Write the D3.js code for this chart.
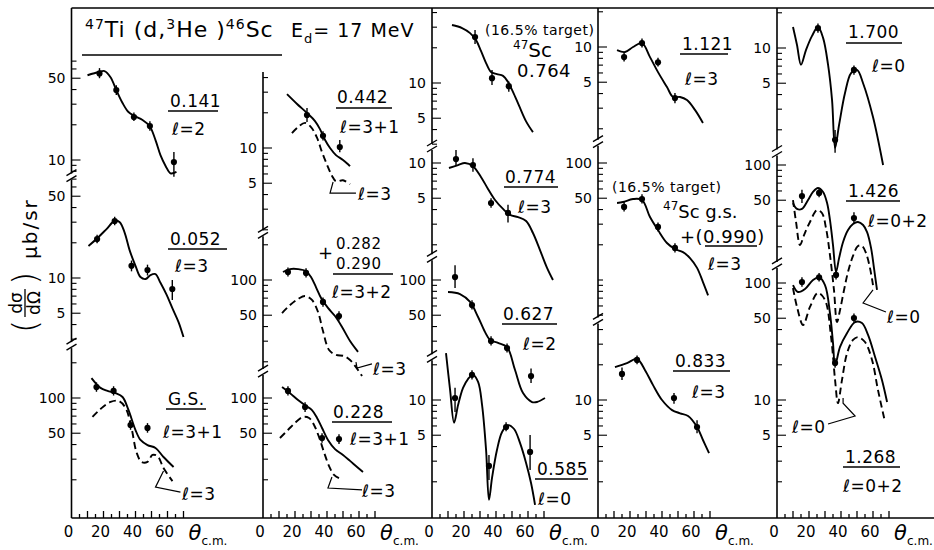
<!DOCTYPE html>
<html><head><meta charset="utf-8">
<script src="https://cdn.jsdelivr.net/npm/d3@7"></script>
<style>
body{margin:0;background:#fff}
svg{display:block}
text{font-family:"DejaVu Sans",sans-serif;fill:#000}
</style>
</head><body>
<svg id="c" width="934" height="550"></svg>
<script>
// ================= DATA (θ in degrees, dσ/dΩ in µb/sr) =================
const thetaTicks = [5,10,15,20,25,30,35,40,45,50,55,60,65,70];
const thetaLabels = [0,20,40,60];

// points: [theta, value, errLow, errHigh]
const p0141_pts = [[17.5,55,50,61],[28,39.6,36,43.5],[39,23.3,21.5,25.5],[49,19.5,17.8,21.4],[64,9.6,7.2,11.7]];
const p0141_l2 = [[10,53],[17,56.5],[20.6,57.6],[24.4,51],[28,39.6],[31.9,30.7],[35.6,25.7],[39.4,23.8],[44.4,22],[48.8,19.5],[52.5,14.8],[55.6,11],[58.8,8.9],[61.9,7.7],[65.6,7.9]];

const p0052_pts = [[16,21.5,19.8,23.4],[27,30.7,28.2,33.4],[37.5,12.7,11.4,14.1],[47.5,11.7,10.5,13],[63,8.05,6.5,9.6]];
const p0052_l3 = [[10.6,18.8],[16.3,22],[21.9,26.2],[26.9,30.7],[30,30.1],[33.1,24.7],[36.3,17.3],[40,12.7],[43.1,10.2],[46.3,9.8],[49.4,10.6],[52.5,10.8],[55.6,9.1],[59.4,7.2],[63.1,5.5],[66.9,4.2],[70,3.13]];

const pGS_pts = [[15.6,124,113,136],[26.3,115,105,126],[36.9,58.8,53.5,64.5],[47.5,55.5,50.5,61]];
const pGS_l31 = [[12.5,148],[18.1,122],[22.5,115],[27.5,110],[31.9,102],[35.6,79],[40,53.2],[43.1,43.8],[47.5,39.6],[52.5,37.4],[57.5,31.3],[63.8,25.7]];
const pGS_l3 = [[13.1,68.9],[18.1,80.5],[24.4,92.5],[29.4,94.3],[33.8,82.2],[37.5,55.4],[40.6,34.5],[43.8,28.4],[47.5,28.4],[50.6,32.6],[53.8,31.9],[57.5,25.2],[63.1,19.5]];

const p0442_pts = [[27.5,19.1,16.7,22],[37.5,12.7,11.6,13.9],[48,10.2,9.2,11.7]];
const p0442_l31 = [[15,28.9],[21.3,23.8],[27.5,19.9],[32.5,17],[35.6,14.5],[38.8,11.7],[41.9,10],[45.6,8.7],[50,7.9],[54.4,7.0]];
const p0442_l3 = [[18.1,13.4],[21.9,15.1],[26.3,16.4],[30,15.1],[33.8,12.2],[36.9,9.2],[40,7.2],[43.1,5.8],[45.6,5.2],[50,5.3],[54.4,4.9]];

const p0282_pts = [[15.6,117,107,128],[26.9,115,105,126],[37.5,64.9,59,71],[47.5,49.2,45,54]];
const p0282_l32 = [[12.5,117],[16.9,124],[21.9,124],[26.9,119],[30,106],[33.1,87],[36.3,70.2],[40.6,57.7],[45,49.2],[49.4,39.7],[54.4,30.1],[59.4,24.3]];
const p0282_l3 = [[11.9,52.2],[16.9,61.1],[21.9,68.8],[26.3,73],[30.6,67.5],[34.4,53.3],[37.5,36.6],[41.3,25.2],[45.6,22.9],[50.6,22.4],[54.4,20.7],[58.1,18],[61.9,15.1]];

const p0228_pts = [[15.6,115,105,126],[26.3,83.8,76,92],[36.9,45.5,41.5,50],[47.5,44.6,40.5,49]];
const p0228_l31 = [[11.9,124],[16.9,110],[21.9,96],[26.9,85.5],[30.6,78.9],[33.8,67.5],[36.9,55.4],[40.6,43.8],[45,36.6],[50,32.6],[54.4,29],[58.8,25.7],[62.5,23.3]];
const p0228_l3 = [[10.6,45.5],[15.6,53.3],[20.6,62.4],[25,68.8],[28.8,67.5],[31.9,58.8],[35,46.4],[38.1,34.5],[41.3,26.2],[44.4,22],[47.5,20.7]];

const p0764_pts = [[26.9,24.7,21.5,28.4],[37.5,11,9.6,12.9],[48,9.4,8.4,10.3]];
const p0764_fit = [[12.5,31.3],[18.8,29.5],[23.8,26.7],[27.5,23.3],[30.6,18.8],[33.8,14.8],[36.9,12.4],[40.6,11.9],[44.4,11.5],[47.5,10.2],[50.6,8.4],[54.4,6.4],[58.8,4.7],[63.1,3.8]];

const p0774_pts = [[15,10.8,9.6,12.9],[25.6,9.6,8.4,11],[36.9,4.55,4.15,5],[47.5,3.74,3.1,4.4]];
const p0774_l3 = [[10.6,9.06],[16.3,9.6],[20.6,10],[25.6,9.4],[30.6,7.6],[35,6.0],[39.4,4.83],[44.4,4.05],[48.8,3.6],[53.8,3.45],[58.8,3.19],[63.1,2.52],[67.5,1.8],[71.9,1.27],[75.6,1.0]];

const p0627_pts = [[14.4,106,85.4,134],[25,61,56,67],[36.9,30.1,27.5,33],[46.9,26.2,24,28.7],[61.9,15.1,13.2,17.5]];
const p0627_l2 = [[10,78.9],[17.5,75.9],[23.8,64.9],[28.8,48.3],[33.1,36],[36.3,30.7],[41.3,29],[46.9,26.7],[51.9,17],[56.9,10.8],[62.5,9.06],[65.6,9.06],[70.6,9.8]];

const p0585_pts = [[14.4,10.4,7.9,12.7],[25,16.4,15,18],[35.6,2.73,2.07,3.39],[46.3,5.88,5.4,6.45],[61.3,3.6,2.52,5.03]];
const p0585_l0 = [[8.75,25.2],[11.3,12.2],[13.8,6.4],[16.3,9.06],[19.4,12.7],[22.5,15.1],[25.6,16.4],[28.8,14.3],[31.3,9.06],[33.8,3.74],[35.6,1.4],[37.5,2.15],[40.6,3.74],[43.8,5.33],[47.5,6.1],[51.3,5.65],[55,4.3],[58.8,2.9],[61.9,1.95],[64.4,1.27]];

const p1121_pts = [[16.3,8.2,7.5,9],[27.5,10.8,9.9,11.8],[37.5,7.4,6.8,8.1],[48.1,3.66,3.3,4.05]];
const p1121_l3 = [[11.9,9.4],[16.9,9.06],[21.9,10],[27.5,10.8],[32.5,8.2],[37.5,6.1],[43.1,4.55],[46.9,3.74],[51.3,3.74],[55.6,3.52],[60.6,2.9],[65.6,2.24]];

const p0990_pts = [[16.3,42.1,38.5,46.5],[27.5,49.2,45,54],[37.5,28.4,26,31],[48.1,18.8,17.2,20.6]];
const p0990_l3 = [[11.9,45.5],[15.6,46.4],[21.9,49.2],[27.5,48.3],[32.5,34.5],[37.5,26.7],[43.1,20.7],[48.1,18.4],[53.1,17.3],[57.5,15.4],[61.9,12.7],[65.6,9.6],[68.8,7.4]];

const p0833_pts = [[15,16.7,14.8,19],[24.4,22,20.2,24],[47.5,10.4,9.3,11.5],[61.9,5.88,5.2,6.7]];
const p0833_l3 = [[10.6,19.1],[18.1,20.7],[24.4,22.4],[29.4,18],[34.4,13.4],[40,10],[46.3,8.2],[51.3,7.7],[56.3,7.3],[61.9,5.88],[65.6,4.55],[69.4,3.52]];

const p1700_pts = [[25.6,14.8,13.5,16.2],[36.3,1.64,1.27,1.99],[48.1,6.5,5.9,7.1]];
const p1700_l0 = [[10,15.1],[12.5,10.6],[15,7.2],[18.1,9.6],[21.9,12.7],[25.6,15.1],[28.8,12.2],[31.9,7.2],[34.4,3.6],[36.3,1.4],[38.8,2.2],[42.5,4.12],[46.3,6.1],[50,6.5],[53.8,5.0],[60,2.57],[66.3,1.0]];

const p1426_pts = [[15.6,54.3,47.3,61.5],[26.3,57.7,53,63],[36.9,11.5,10.5,12.6],[48.1,35.2,31.4,39.5]];
const p1426_l02 = [[10,47.3],[12.5,42.1],[15.6,42.1],[19.4,50.2],[22.5,58.8],[25.6,63.6],[28.8,58.8],[31.3,47.3],[33.1,33.9],[35,20.7],[36.9,12.2],[38.8,16],[41.3,22],[44.4,27.8],[47.5,31.3],[50.6,32.6],[53.8,30.7],[56.3,26.7],[58.8,19.5],[60.6,13.2],[62.5,8.55]];
const p1426_l0 = [[10,50.2],[11.9,32.6],[14.4,20.7],[16.9,25.2],[20.6,32.6],[25,41.2],[28.1,38.9],[30.6,29],[33.1,17],[35.6,8.55],[37.5,4.55],[39.4,5.77],[41.9,8.55],[44.4,12.2],[47.5,16.7],[50.6,20.3],[53.1,20.3],[55.6,17.7],[58.1,13.2],[60,9.4]];

const p1268_pts = [[15.6,102,93,112],[26.3,112,103,122],[36.3,20.7,18.9,22.7],[48.1,50.2,46,55]];
const p1268_l02 = [[10,96],[13.1,83.8],[17.5,88.9],[22.5,106],[26.3,112],[30,96],[33.1,55.4],[35,30.7],[36.3,19.9],[39.4,28.4],[43.8,37.4],[48.8,46.4],[53.1,45.5],[56.9,36],[61.3,23.3],[65.6,14.8],[68.8,9.6]];
const p1268_l0 = [[10,90.6],[12.5,62.4],[16.3,43.8],[20.6,62.4],[25.6,82.2],[30,71.6],[33.8,34.5],[36.3,14.8],[38.1,9.4],[40.6,14.8],[43.8,25.2],[47.5,32.6],[50.6,34.5],[55,31.3],[59.4,22],[63.1,12.2],[67.5,6.5]];

// leader lines for curve annotations [theta, value]
const lead_gs = [[57.5,23.8],[52.5,17.3],[68.1,15.7]];
const lead_0442 = [[43.8,5.12],[41.9,4.12],[58.1,4.12]];
const lead_0282 = [[58.1,19.9],[58.8,17.7],[68.1,19.2]];
const lead_0228 = [[43.1,21.1],[40.6,17],[61.9,16.4]];
const lead_1426 = [[60,8.55],[53.8,6.62],[68.1,5.54]];
const lead_1268 = [[41.3,10.4],[41.3,9.4],[48.8,7.3],[31.9,6.24]];

// y-axis domains and labelled ticks of each panel
const dom_0141 = [7.6,71],  lab_0141 = [50,10];
const dom_0052 = [2.8,70],  lab_0052 = [50,10,5];
const dom_gs   = [10.5,270],lab_gs   = [100,50];
const dom_0442 = [1.95,45], lab_0442 = [10,5];
const dom_0282 = [17,240],  lab_0282 = [100,50];
const dom_0228 = [10.5,160],lab_0228 = [100,50];
const dom_0764 = [2.9,44],  lab_0764 = [10,5];
const dom_0774 = [1.65,13.4],lab_0774 = [10,5];
const dom_0627 = [23,148],  lab_0627 = [100,50];
const dom_0585 = [1.05,22], lab_0585 = [10,5];
const dom_1121 = [1.6,21.5],lab_1121 = [10,5];
const dom_0990 = [4.7,142], lab_0990 = [100,50];
const dom_0833 = [1.05,46], lab_0833 = [10,5];
const dom_1700 = [1.34,22], lab_1700 = [10,5];
const dom_1426 = [14.9,122],lab_1426 = [100,50];
const dom_1268 = [1.05,134],lab_1268 = [100,50,10,5];

// ================= LAYOUT =================
const W = 934, topY = 8, baseY = 518;
const DEC = 117;            // px per decade
const colX = [71.5, 263, 432, 598, 777];
const colTop = [8, 72, 8, 8, 8];
const degPx = 1.6;

const panels = [
 {col:0, ref:10,  refY:160, dom:dom_0141, lab:lab_0141, pts:p0141_pts, fits:[[p0141_l2,0]]},
 {col:0, ref:10,  refY:278, dom:dom_0052, lab:lab_0052, pts:p0052_pts, fits:[[p0052_l3,0]]},
 {col:0, ref:100, refY:398, dom:dom_gs,   lab:lab_gs,   pts:pGS_pts,   fits:[[pGS_l31,0],[pGS_l3,1]], lead:lead_gs},
 {col:1, ref:10,  refY:148, dom:dom_0442, lab:lab_0442, pts:p0442_pts, fits:[[p0442_l31,0],[p0442_l3,1]], lead:lead_0442},
 {col:1, ref:100, refY:280, dom:dom_0282, lab:lab_0282, pts:p0282_pts, fits:[[p0282_l32,0],[p0282_l3,1]], lead:lead_0282},
 {col:1, ref:100, refY:398, dom:dom_0228, lab:lab_0228, pts:p0228_pts, fits:[[p0228_l31,0],[p0228_l3,1]], lead:lead_0228},
 {col:2, ref:10,  refY:83,  dom:dom_0764, lab:lab_0764, pts:p0764_pts, fits:[[p0764_fit,0]]},
 {col:2, ref:10,  refY:163, dom:dom_0774, lab:lab_0774, pts:p0774_pts, fits:[[p0774_l3,0]]},
 {col:2, ref:100, refY:280, dom:dom_0627, lab:lab_0627, pts:p0627_pts, fits:[[p0627_l2,0]]},
 {col:2, ref:10,  refY:400, dom:dom_0585, lab:lab_0585, pts:p0585_pts, fits:[[p0585_l0,0]]},
 {col:3, ref:10,  refY:47,  dom:dom_1121, lab:lab_1121, pts:p1121_pts, fits:[[p1121_l3,0]]},
 {col:3, ref:100, refY:163, dom:dom_0990, lab:lab_0990, pts:p0990_pts, fits:[[p0990_l3,0]]},
 {col:3, ref:10,  refY:400, dom:dom_0833, lab:lab_0833, pts:p0833_pts, fits:[[p0833_l3,0]]},
 {col:4, ref:10,  refY:48,  dom:dom_1700, lab:lab_1700, pts:p1700_pts, fits:[[p1700_l0,0]]},
 {col:4, ref:100, refY:165, dom:dom_1426, lab:lab_1426, pts:p1426_pts, fits:[[p1426_l02,0],[p1426_l0,1]], lead:lead_1426},
 {col:4, ref:100, refY:283, dom:dom_1268, lab:lab_1268, pts:p1268_pts, fits:[[p1268_l02,0],[p1268_l0,1]], lead:lead_1268},
];

// text annotations (pixel layout)
const notes = [
 [170,107,"0.141",17],[172,135,"ℓ=2",17],
 [170,245,"0.052",17],[175,272,"ℓ=3",17],
 [168,405,"G.S.",17],[163,438,"ℓ=3+1",17],[182,500,"ℓ=3",17],
 [337,103,"0.442",17],[340,133,"ℓ=3+1",17],[358,200,"ℓ=3",17],
 [318,259,"+",18],[336,249,"0.282",15],[336,269,"0.290",15],[332,298,"ℓ=3+2",17],[373,375,"ℓ=3",17],
 [333,418,"0.228",17],[350,445,"ℓ=3+1",17],[362,497,"ℓ=3",17],
 [485,35,"(16.5% target)",14],[517,77,"0.764",18],
 [505,183,"0.774",17],[518,213,"ℓ=3",17],
 [503,320,"0.627",17],[523,350,"ℓ=2",17],
 [537,475,"0.585",17],[538,505,"ℓ=0",17],
 [682,50,"1.121",17],[685,85,"ℓ=3",17],
 [612,192,"(16.5% target)",14],[680,243,"+(0.990)",18],[708,270,"ℓ=3",17],
 [675,367,"0.833",17],[692,398,"ℓ=3",17],
 [848,38,"1.700",17],[872,72,"ℓ=0",17],
 [848,197,"1.426",17],[868,227,"ℓ=0+2",17],[887,323,"ℓ=0",17],
 [845,463,"1.268",17],[843,492,"ℓ=0+2",17],[792,433,"ℓ=0",17],
];
const underlines = [
 [168,218,111],[168,227,249],[166,206,409],
 [336,392,108],[333,393,274],[332,392,422],
 [504,558,187],[502,557,324],[535,588,479],
 [680,728,54],[705,757,246],[673,730,371],
 [846,902,43],[846,900,201],[843,900,467],
];

// ================= DRAW =================
const svg = d3.select("#c");
const ink = "#000";

svg.append("line").attr("x1",colX[0]).attr("x2",W).attr("y1",topY).attr("y2",topY)
  .attr("stroke",ink).attr("stroke-width",1.6);
svg.append("line").attr("x1",colX[0]).attr("x2",W).attr("y1",baseY).attr("y2",baseY)
  .attr("stroke",ink).attr("stroke-width",1.6);

// title
const tt = svg.append("text").attr("x",85).attr("y",37).attr("font-size",22).attr("letter-spacing",1);
tt.append("tspan").attr("font-size",14).attr("dy",-8).text("47");
tt.append("tspan").attr("dy",8).text("Ti (d,");
tt.append("tspan").attr("font-size",14).attr("dy",-8).text("3");
tt.append("tspan").attr("dy",8).text("He )");
tt.append("tspan").attr("font-size",14).attr("dy",-8).text("46");
tt.append("tspan").attr("dy",8).text("Sc");
svg.append("line").attr("x1",82).attr("x2",282).attr("y1",55).attr("y2",55).attr("stroke",ink).attr("stroke-width",1.6);
const ed = svg.append("text").attr("x",291).attr("y",37).attr("font-size",19).attr("letter-spacing",1);
ed.append("tspan").text("E");
ed.append("tspan").attr("font-size",13).attr("dy",6).text("d");
ed.append("tspan").attr("dy",-6).text("= 17 MeV");

// y-axis title (rotated)
const yt = svg.append("g").attr("transform","translate(27,255) rotate(-90)");
yt.append("text").attr("x",-78).attr("y",10).attr("font-size",34).attr("font-weight",300).text("(");
yt.append("text").attr("x",-48).attr("y",-5).attr("font-size",17).attr("text-anchor","middle").text("dσ");
yt.append("line").attr("x1",-62).attr("x2",-34).attr("y1",-2).attr("y2",-2).attr("stroke",ink).attr("stroke-width",1.3);
yt.append("text").attr("x",-48).attr("y",13).attr("font-size",17).attr("text-anchor","middle").text("dΩ");
yt.append("text").attr("x",-30).attr("y",10).attr("font-size",34).attr("font-weight",300).text(")");
yt.append("text").attr("x",-4).attr("y",10).attr("font-size",20).attr("letter-spacing",2).text("μb/sr");

// columns: x axes
for (let c = 0; c < 5; c++) {
  const x = d3.scaleLinear().domain([0,70]).range([colX[c], colX[c] + 70*degPx]);
  svg.append("g").selectAll("line").data(thetaTicks).join("line")
    .attr("x1",d=>x(d)).attr("x2",d=>x(d)).attr("y1",baseY).attr("y2",d=> d%10===0 ? baseY-7 : baseY-4)
    .attr("stroke",ink).attr("stroke-width",1.3);
  svg.append("g").selectAll("text").data(thetaLabels).join("text")
    .attr("x",d=>x(d)-3).attr("y",537).attr("text-anchor","middle").attr("font-size",15).text(d=>d);
  svg.append("text").attr("x",colX[c]+117).attr("y",540).attr("font-size",21).attr("font-style","italic").text("θ");
  svg.append("text").attr("x",colX[c]+130).attr("y",545).attr("font-size",12).text("c.m.");
}

// panels
const colPanels = d3.groups(panels, p=>p.col);
colPanels.forEach(([c, list]) => {
  const cx = colX[c];
  const x = d3.scaleLinear().domain([0,70]).range([cx, cx + 70*degPx]);
  list.forEach(p => {
    const yOf = v => p.refY - DEC*Math.log10(v/p.ref);
    p.y = d3.scaleLog().domain(p.dom).range([yOf(p.dom[0]), yOf(p.dom[1])]);
    p.x = x;
  });
  list.forEach((p, k) => {
    let top = k===0 ? colTop[c] : null, bot = k===list.length-1 ? baseY : null;
    if (top===null) { const g = (list[k-1].y.range()[0] + p.y.range()[1])/2; top = g+3; }
    if (bot===null) { const g = (p.y.range()[0] + list[k+1].y.range()[1])/2; bot = g-3;
      svg.append("line").attr("x1",cx-5).attr("x2",cx+5).attr("y1",g-1).attr("y2",g-7).attr("stroke",ink).attr("stroke-width",1.4);
      svg.append("line").attr("x1",cx-5).attr("x2",cx+5).attr("y1",g+5).attr("y2",g-1).attr("stroke",ink).attr("stroke-width",1.4);
    }
    svg.append("line").attr("x1",cx).attr("x2",cx).attr("y1",top).attr("y2",bot).attr("stroke",ink).attr("stroke-width",1.6);
    const ticks = p.y.ticks();
    svg.append("g").selectAll("line").data(ticks).join("line")
      .attr("x1",cx).attr("x2",d=> p.lab.includes(d) ? cx+9 : cx+5)
      .attr("y1",d=>p.y(d)).attr("y2",d=>p.y(d)).attr("stroke",ink).attr("stroke-width",1.1);
    svg.append("g").selectAll("text").data(p.lab).join("text")
      .attr("x",cx-6).attr("y",d=>p.y(d)).attr("dy","0.36em").attr("text-anchor","end")
      .attr("font-size",14).text(d=>d);
    p.fits.forEach(([data,dashed]) => {
      const line = d3.line().x(d=>p.x(d[0])).y(d=>p.y(d[1])).curve(d3.curveCatmullRom.alpha(0.5));
      svg.append("path").attr("d",line(data)).attr("fill","none").attr("stroke",ink)
        .attr("stroke-width",1.9).attr("stroke-dasharray", dashed ? "7,4" : null);
    });
    if (p.lead) {
      const ll = d3.line().x(d=>p.x(d[0])).y(d=>p.y(d[1]));
      svg.append("path").attr("d",ll(p.lead)).attr("fill","none").attr("stroke",ink).attr("stroke-width",1.2);
    }
    const gp = svg.append("g");
    gp.selectAll("line").data(p.pts).join("line")
      .attr("x1",d=>p.x(d[0])).attr("x2",d=>p.x(d[0]))
      .attr("y1",d=>p.y(d[2])).attr("y2",d=>p.y(d[3])).attr("stroke",ink).attr("stroke-width",1.4);
    gp.selectAll("circle").data(p.pts).join("circle")
      .attr("cx",d=>p.x(d[0])).attr("cy",d=>p.y(d[1])).attr("r",3.1).attr("fill",ink);
  });
});

// annotations
svg.append("g").selectAll("text").data(notes).join("text")
  .attr("x",d=>d[0]).attr("y",d=>d[1]).attr("font-size",d=>d[3]).attr("letter-spacing",0.5).text(d=>d[2]);
svg.append("g").selectAll("line").data(underlines).join("line")
  .attr("x1",d=>d[0]).attr("x2",d=>d[1]).attr("y1",d=>d[2]).attr("y2",d=>d[2])
  .attr("stroke",ink).attr("stroke-width",1.5);
function supLabel(x, y, sup, rest, size) {
  const t = svg.append("text").attr("x",x).attr("y",y).attr("font-size",size);
  t.append("tspan").attr("font-size",12).attr("dy",-8).text(sup);
  t.append("tspan").attr("dy",8).text(rest);
}
supLabel(513, 57, "47", "Sc", 20);
supLabel(663, 218, "47", "Sc  g.s.", 18);
</script>
</body></html>
